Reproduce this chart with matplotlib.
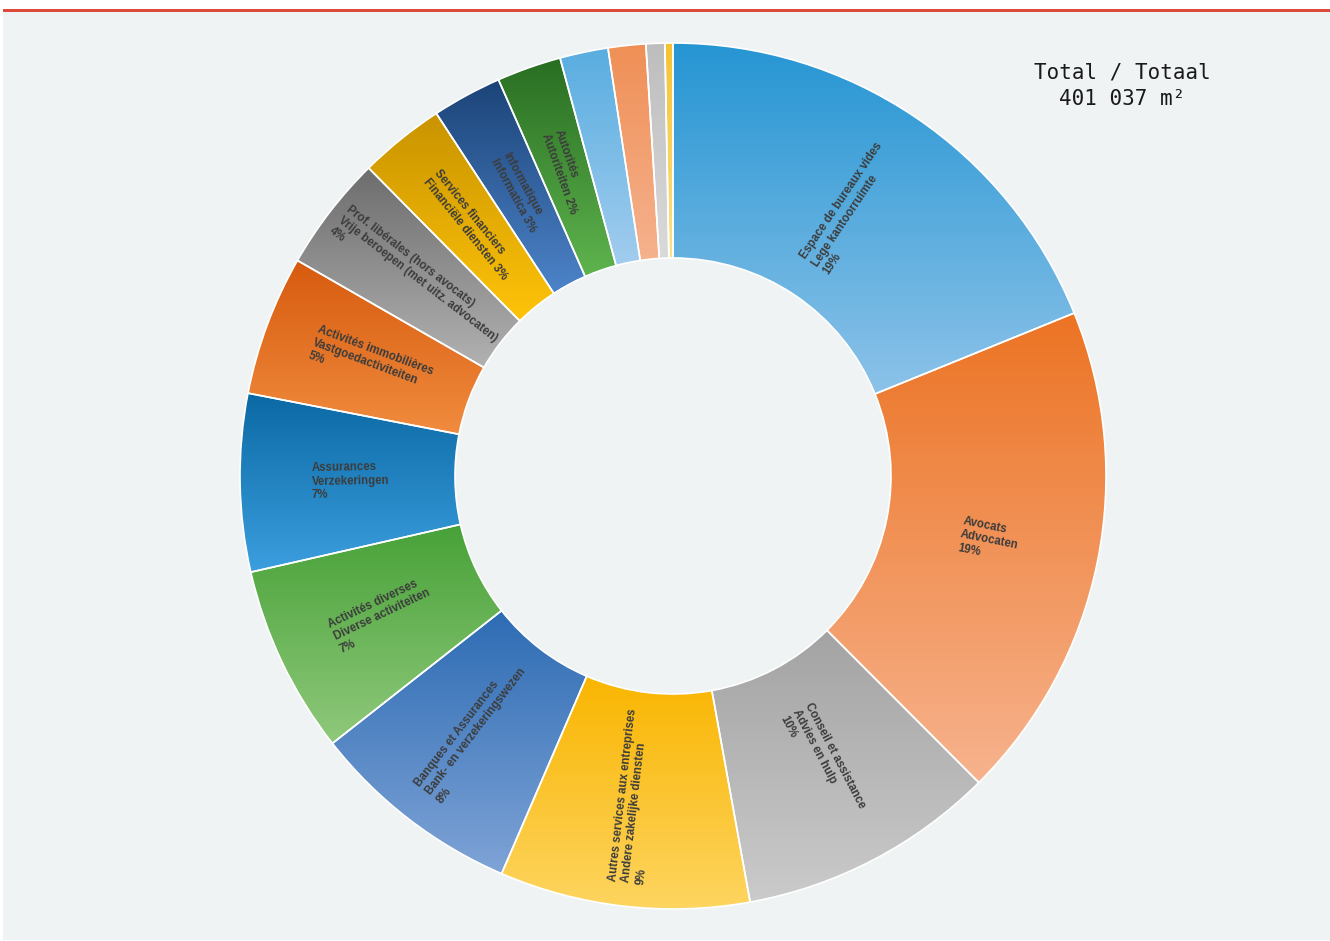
import numpy as np
import matplotlib
matplotlib.use("Agg")
import matplotlib.pyplot as plt
from matplotlib.patches import Rectangle
from matplotlib.colors import to_rgb

# ---------------- data ----------------
labels = [
    "Espace de bureaux vides\nLege kantoorruimte\n19%",
    "Avocats\nAdvocaten\n19%",
    "Conseil et assistance\nAdvies en hulp\n10%",
    "Autres services aux entreprises\nAndere zakelijke diensten\n9%",
    "Banques et Assurances\nBank- en verzekeringswezen\n8%",
    "Activités diverses\nDiverse activiteiten\n7%",
    "Assurances\nVerzekeringen\n7%",
    "Activités immobilières\nVastgoedactiviteiten\n5%",
    "Prof. libérales (hors avocats)\nVrije beroepen (met uitz. advocaten)\n4%",
    "Services financiers\nFinanciële diensten 3%",
    "Informatique\nInformatica 3%",
    "Autorités\nAutoriteiten 2%",
    None,
    None,
    None,
    None,
]
values_m2 = [75400, 74600, 38500, 37300, 31700, 28100, 26500, 20900,
             17200, 12800, 10400, 9600, 7200, 5600, 2800, 1200]
top_colors = ["#2595d3", "#ec7323", "#a3a3a3", "#f9b500", "#2c6bb3", "#47a137",
              "#0a68a3", "#d65a0e", "#6c6c6c", "#c89300", "#1b4377", "#286d22",
              "#58ade0", "#ef8f55", "#bdbdbd", "#f5c233"]
bottom_colors = ["#8dc3e9", "#f7b38e", "#cbcbcb", "#fed561", "#80a4d7", "#90c97c",
                 "#3c9fdf", "#f18c3e", "#b2b2b2", "#ffc409", "#4d84ca", "#5fb44e",
                 "#a3cdef", "#f6b28e", "#dadada", "#fbe18c"]
total_text = "Total / Totaal\n401 037 m²"

# ---------------- figure ----------------
W, H = 1330, 941
fig = plt.figure(figsize=(W / 100, H / 100), dpi=100, facecolor="white")
ax = fig.add_axes([0, 0, 1, 1])
ax.axis("off")

# panel background & red top rule
ax.add_patch(Rectangle((3, 1), W - 3, H - 13, facecolor="#eff3f4",
                       edgecolor="none", zorder=0))
ax.add_patch(Rectangle((3, H - 12), W - 3, 3, facecolor="#dc4a3c",
                       edgecolor="none", zorder=0))

cx, cy = 673, H - 476
R_out, ring_w = 433, 215

wedges, _ = ax.pie(values_m2, startangle=90, counterclock=False,
                   radius=R_out, center=(cx, cy),
                   wedgeprops=dict(width=ring_w, edgecolor="white", linewidth=1.2))

for w, tc, bc in zip(wedges, top_colors, bottom_colors):
    t1, t2 = np.deg2rad(w.theta1), np.deg2rad(w.theta2)
    th = np.linspace(t1, t2, 200)
    xs = np.concatenate([cx + R_out * np.cos(th), cx + (R_out - ring_w) * np.cos(th)])
    ys = np.concatenate([cy + R_out * np.sin(th), cy + (R_out - ring_w) * np.sin(th)])
    x0, x1, y0, y1 = xs.min(), xs.max(), ys.min(), ys.max()
    t = np.linspace(0, 1, 256)[:, None]
    grad = (1 - t) * np.array(to_rgb(tc)) + t * np.array(to_rgb(bc))
    img = ax.imshow(grad[:, None, :], extent=(x0 - 2, x1 + 2, y0 - 2, y1 + 2),
                    origin="upper", aspect="auto", interpolation="bilinear",
                    zorder=1)
    img.set_clip_path(w)
    w.set_facecolor("none")
    w.set_zorder(2)

# slice labels (radial, readable orientation)
r_lab = 0.745 * R_out
for w, lab in zip(wedges, labels):
    if lab is None:
        continue
    mid = (w.theta1 + w.theta2) / 2.0
    x = cx + r_lab * np.cos(np.deg2rad(mid))
    y = cy + r_lab * np.sin(np.deg2rad(mid))
    rot = mid % 360
    if 90 < rot < 270:
        rot -= 180
    ax.text(x, y, lab, rotation=rot, rotation_mode="anchor", ha="center",
            va="center", multialignment="left", fontsize=8.3, fontweight="bold",
            family=["Liberation Sans", "DejaVu Sans"], color="#3c3c3c",
            linespacing=1.2, zorder=3)

ax.text(1122, H - 86, total_text, ha="center", va="center", fontsize=15,
        family="DejaVu Sans Mono", color="#1a1a1a", linespacing=1.4, zorder=3)

ax.set_xlim(0, W)
ax.set_ylim(0, H)
ax.set_aspect("auto")

fig.savefig("out.png", dpi=100, facecolor="white")
